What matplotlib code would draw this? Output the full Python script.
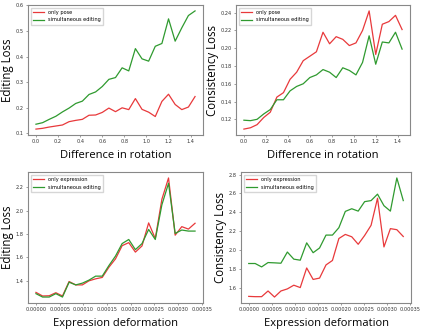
import matplotlib

matplotlib.use("Agg")
import matplotlib.pyplot as plt
import numpy as np

# rotation sweep (top row)
rot_x = np.arange(25) * 0.06
pose_edit = [0.117, 0.120, 0.125, 0.129, 0.133, 0.146, 0.151, 0.155, 0.171, 0.172,
             0.182, 0.199, 0.185, 0.200, 0.193, 0.236, 0.194, 0.183, 0.166, 0.225,
             0.253, 0.213, 0.193, 0.203, 0.244]
pose_sim_edit = [0.136, 0.142, 0.155, 0.167, 0.184, 0.199, 0.217, 0.226, 0.252, 0.262,
                 0.283, 0.311, 0.318, 0.356, 0.344, 0.431, 0.391, 0.382, 0.440, 0.451,
                 0.547, 0.460, 0.512, 0.560, 0.578]
pose_cons = [0.109, 0.1105, 0.114, 0.122, 0.128, 0.145, 0.150, 0.165, 0.173, 0.186,
             0.191, 0.196, 0.218, 0.205, 0.213, 0.210, 0.203, 0.206, 0.220, 0.242,
             0.193, 0.227, 0.230, 0.237, 0.221]
pose_sim_cons = [0.119, 0.1185, 0.120, 0.126, 0.131, 0.142, 0.142, 0.152, 0.157, 0.160,
                 0.167, 0.170, 0.176, 0.173, 0.167, 0.178, 0.175, 0.170, 0.184, 0.214,
                 0.182, 0.207, 0.206, 0.218, 0.199]

# expression sweep (bottom row)
exp_x = np.arange(25) * 0.000014
expr_edit = [1.301, 1.270, 1.272, 1.298, 1.270, 1.394, 1.365, 1.365, 1.400, 1.417,
             1.429, 1.516, 1.588, 1.701, 1.727, 1.646, 1.699, 1.896, 1.762, 2.099,
             2.281, 1.791, 1.864, 1.843, 1.893]
expr_sim_edit = [1.290, 1.261, 1.261, 1.290, 1.261, 1.388, 1.365, 1.380, 1.406, 1.440,
                 1.440, 1.530, 1.612, 1.719, 1.754, 1.667, 1.719, 1.840, 1.754, 2.052,
                 2.235, 1.806, 1.835, 1.826, 1.826]
expr_cons = [1.514, 1.511, 1.511, 1.571, 1.507, 1.571, 1.593, 1.632, 1.607, 1.814,
             1.693, 1.707, 1.846, 1.893, 2.125, 2.168, 2.143, 2.064, 2.157, 2.264,
             2.550, 2.036, 2.229, 2.218, 2.146]
expr_sim_cons = [1.861, 1.861, 1.825, 1.871, 1.868, 1.864, 1.982, 1.907, 1.896, 2.079,
                 1.975, 2.025, 2.161, 2.161, 2.239, 2.411, 2.439, 2.414, 2.514, 2.525,
                 2.593, 2.471, 2.414, 2.764, 2.525]

RED = "#e8393b"
GREEN = "#2f9a2f"
W, H = 423, 335


def panel(fig, box, x, a, b, label_a, xlabel, ylabel, xfmt=None):
    l, r, t, btm = box
    ax = fig.add_axes([l / W, 1 - btm / H, (r - l) / W, (btm - t) / H])
    ax.plot(x, a, color=RED, lw=0.9, label=label_a)
    ax.plot(x, b, color=GREEN, lw=0.9, label="simultaneous editing")
    for s in ax.spines.values():
        s.set_color("#888888")
        s.set_linewidth(0.8)
    ax.tick_params(labelsize=3.6, length=1.5, width=0.4, pad=1.5,
                   colors="#555555", labelcolor="#333333")
    if xfmt:
        ax.xaxis.set_major_formatter(plt.FormatStrFormatter(xfmt))
        ax.set_xticks(np.arange(0, 0.000351, 0.00005))
    ax.set_xlabel(xlabel, fontsize=8, family="Open Sans", labelpad=4)
    ax.set_ylabel(ylabel, fontsize=8.3, family="Open Sans", labelpad=1.5)
    ax.legend(loc="upper left", fontsize=3.6, frameon=True, handlelength=2.2,
              borderpad=0.5, labelspacing=0.5, fancybox=False)
    return ax


fig = plt.figure(figsize=(W / 100, H / 100), dpi=100)
panel(fig, (28, 203, 5, 135), rot_x, pose_edit, pose_sim_edit, "only pose",
      "Difference in rotation", "Editing Loss")
panel(fig, (236, 410, 5, 135), rot_x, pose_cons, pose_sim_cons, "only pose",
      "Difference in rotation", "Consistency Loss")
panel(fig, (28, 203, 172, 303), exp_x, expr_edit, expr_sim_edit, "only expression",
      "Expression deformation", "Editing Loss", "%.5f")
panel(fig, (241, 411, 172, 303), exp_x, expr_cons, expr_sim_cons, "only expression",
      "Expression deformation", "Consistency Loss", "%.5f")
fig.savefig("out.png", dpi=100)
